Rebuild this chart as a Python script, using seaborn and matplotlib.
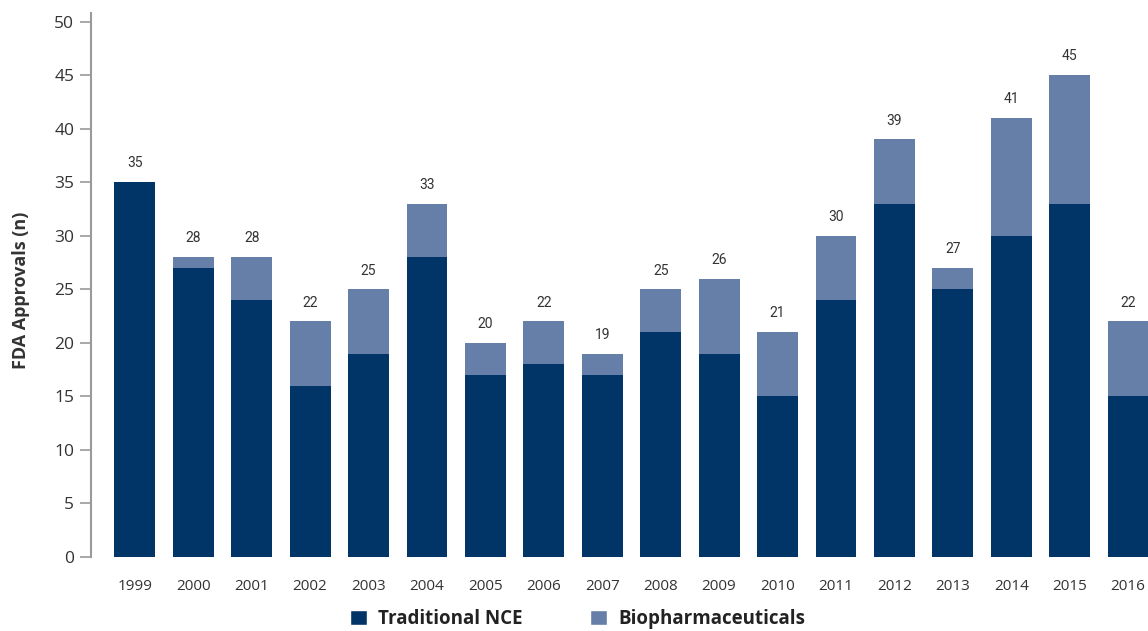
import matplotlib
matplotlib.use("Agg")
import matplotlib.pyplot as plt
from matplotlib.patches import Patch
import seaborn as sns
import pandas as pd

years = ["1999", "2000", "2001", "2002", "2003", "2004", "2005", "2006", "2007",
         "2008", "2009", "2010", "2011", "2012", "2013", "2014", "2015", "2016"]
traditional_nce = [35, 27, 24, 16, 19, 28, 17, 18, 17, 21, 19, 15, 24, 33, 25, 30, 33, 15]
biopharmaceuticals = [0, 1, 4, 6, 6, 5, 3, 4, 2, 4, 7, 6, 6, 6, 2, 11, 12, 7]
y_ticks = [0, 5, 10, 15, 20, 25, 30, 35, 40, 45, 50]

NCE_COLOR = "#023567"
BIO_COLOR = "#657fa9"
TEXT_COLOR = "#333333"

df = pd.DataFrame({"year": years, "nce": traditional_nce, "bio": biopharmaceuticals})
df["total"] = df["nce"] + df["bio"]

sns.set_style("white")
plt.rcParams["font.family"] = ["Open Sans", "DejaVu Sans"]

fig = plt.figure(figsize=(11.48, 6.31), dpi=100)
ax = fig.add_axes([91 / 1148, 74 / 631, 1 - 91 / 1148, (557 - 13) / 631])

# stacked bars: total in light blue, traditional NCE drawn over it
sns.barplot(data=df, x="year", y="total", color=BIO_COLOR, width=0.7,
            saturation=1, ax=ax, errorbar=None, linewidth=0)
sns.barplot(data=df, x="year", y="nce", color=NCE_COLOR, width=0.7,
            saturation=1, ax=ax, errorbar=None, linewidth=0)

for i, t in enumerate(df["total"]):
    ax.text(i, t + 1.1, f"{t}", ha="center", va="bottom", fontsize=10,
            color=TEXT_COLOR, family=["Roboto", "DejaVu Sans"])

ax.set_xlim(-0.75, 17.34)
ax.set_ylim(0, 50.8)
ax.set_yticks(y_ticks)
ax.set_yticklabels([str(v) for v in y_ticks], fontsize=12.5, color=TEXT_COLOR)
ax.tick_params(axis="y", which="both", left=True, length=8, width=1.2,
               color="#9a9a9a", pad=4)
ax.tick_params(axis="x", length=0, pad=16, labelsize=11, labelcolor=TEXT_COLOR)

for side in ["top", "right", "bottom"]:
    ax.spines[side].set_visible(False)
ax.spines["left"].set_color("#9a9a9a")
ax.spines["left"].set_linewidth(1.5)

ax.set_xlabel("")
ax.set_ylabel("FDA Approvals (n)", fontsize=13, fontweight="bold",
              color=TEXT_COLOR)
ax.yaxis.set_label_coords(-0.058, 0.49)

handles = [Patch(facecolor=NCE_COLOR, label="Traditional NCE"),
           Patch(facecolor=BIO_COLOR, label="Biopharmaceuticals")]
leg = fig.legend(handles=handles, loc="center", bbox_to_anchor=(0.503, 0.019),
                 ncol=2, frameon=False, handlelength=0.9,
                 handleheight=0.9, handletextpad=0.6, columnspacing=3.6,
                 prop={"weight": "bold", "size": 13.5})
for txt in leg.get_texts():
    txt.set_color("#222222")

fig.savefig("out.png", dpi=100)
